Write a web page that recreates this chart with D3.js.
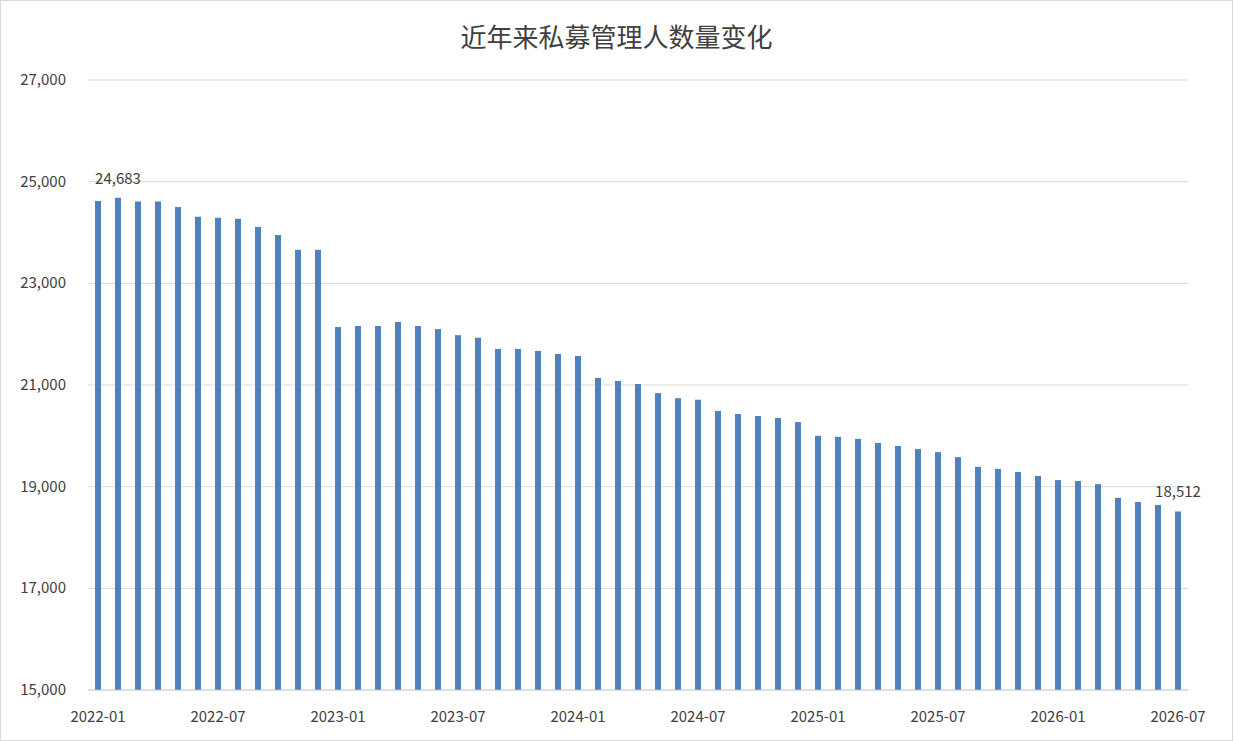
<!DOCTYPE html>
<html><head><meta charset="utf-8">
<script src="https://cdn.jsdelivr.net/npm/d3@7"></script>
<style>body{margin:0;background:#fff}</style>
</head><body><div id="chart"></div>
<script>
const months = [];
for (let y = 2022; y <= 2026; y++) for (let m = 1; m <= 12; m++) {
  if (y === 2026 && m > 7) break;
  months.push(`${y}-${String(m).padStart(2, "0")}`);
}
const values = [
  24620, 24683, 24610, 24610, 24500, 24310, 24290, 24270, 24110, 23950, 23660, 23660,
  22140, 22160, 22160, 22240, 22160, 22100, 21980, 21930, 21710, 21710, 21670, 21610,
  21570, 21140, 21080, 21020, 20840, 20740, 20710, 20490, 20430, 20390, 20350, 20270,
  20000, 19980, 19940, 19860, 19800, 19740, 19680, 19580, 19390, 19350, 19290, 19210,
  19130, 19110, 19050, 18780, 18700, 18640, 18512
];
const yTicks = [15000, 17000, 19000, 21000, 23000, 25000, 27000];
const xTickLabels = ["2022-01","2022-07","2023-01","2023-07","2024-01","2024-07","2025-01","2025-07","2026-01","2026-07"];
const labelled = ["2022-02", "2026-07"];

const W = 1233, H = 741;
const margin = { top: 80, right: 45, bottom: 51, left: 88 };
const svg = d3.select("#chart").append("svg").attr("width", W).attr("height", H);
svg.append("rect").attr("x", 0.5).attr("y", 0.5).attr("width", W - 1).attr("height", H - 1)
  .attr("fill", "#fff").attr("stroke", "#d9d9d9");

const font = "'Noto Sans CJK SC', 'Noto Sans', sans-serif";
const x = d3.scaleBand().domain(months).range([margin.left, W - margin.right]).paddingInner(0.7).paddingOuter(0.35);
const y = d3.scaleLinear().domain([15000, 27000]).range([H - margin.bottom, margin.top]);

// grid
svg.append("g").selectAll("line").data(yTicks.slice(1)).join("line")
  .attr("x1", margin.left).attr("x2", W - margin.right)
  .attr("y1", d => y(d)).attr("y2", d => y(d))
  .attr("stroke", "#d9d9d9");

// y axis labels
svg.append("g").selectAll("text").data(yTicks).join("text")
  .attr("x", 66).attr("y", d => y(d) + 5).attr("text-anchor", "end")
  .attr("font-family", font).attr("font-size", 15).attr("fill", "#404040")
  .text(d3.format(","));

// bars
svg.append("g").selectAll("rect").data(values).join("rect")
  .attr("x", (d, i) => x(months[i])).attr("width", x.bandwidth())
  .attr("y", d => y(d)).attr("height", d => y(15000) - y(d))
  .attr("fill", "#4f81bd");

// bottom axis
svg.append("line").attr("x1", margin.left).attr("x2", W - margin.right)
  .attr("y1", y(15000)).attr("y2", y(15000)).attr("stroke", "#bfbfbf");

svg.append("g").selectAll("text").data(xTickLabels).join("text")
  .attr("x", d => x(d) + x.bandwidth() / 2).attr("y", H - 19).attr("text-anchor", "middle")
  .attr("font-family", font).attr("font-size", 15).attr("fill", "#404040").text(d => d);

// data labels
svg.append("g").selectAll("text").data(labelled).join("text")
  .attr("x", d => x(d) + x.bandwidth() / 2)
  .attr("y", d => y(values[months.indexOf(d)]) - 14).attr("text-anchor", "middle")
  .attr("font-family", font).attr("font-size", 15).attr("fill", "#404040")
  .text(d => d3.format(",")(values[months.indexOf(d)]));

svg.append("text").attr("x", W / 2).attr("y", 47).attr("text-anchor", "middle")
  .attr("font-family", font).attr("font-size", 26).attr("fill", "#404040")
  .text("近年来私募管理人数量变化");
</script></body></html>
